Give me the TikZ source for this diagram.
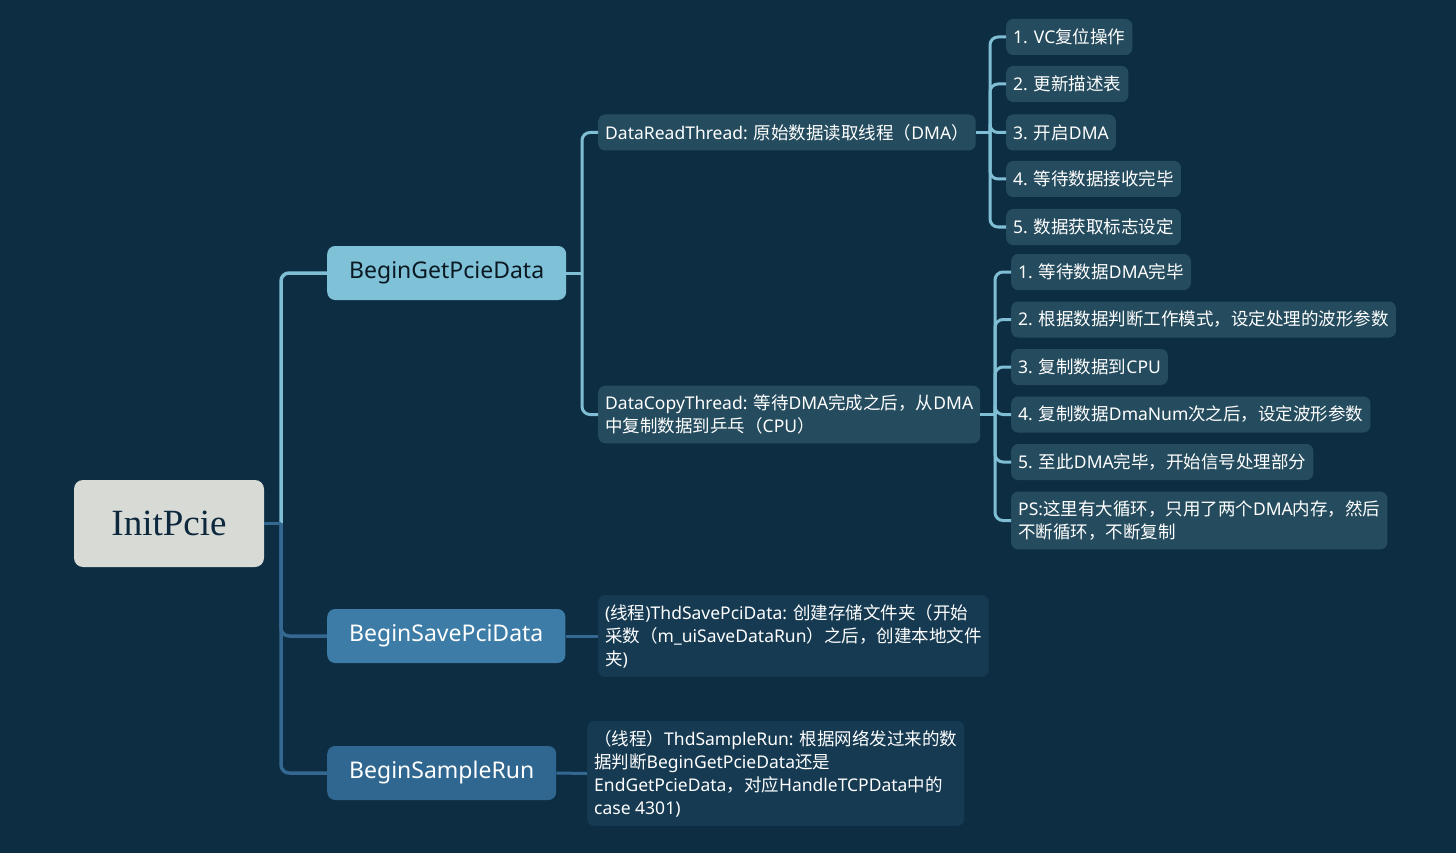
\documentclass[tikz,border=0pt]{standalone}
\usepackage{fontspec}
\setmainfont{Noto Sans}
\newfontfamily\latinfont{Noto Sans}
\newfontfamily\cjkfont{Noto Sans CJK SC}
\newfontfamily\rootfont{Liberation Serif}
% switch to the CJK face for Chinese characters
\XeTeXinterchartokenstate=1
\newXeTeXintercharclass\cjkclass
\newcount\cjkchar
\def\setcjkrange#1#2{\cjkchar=#1\relax
  \loop\XeTeXcharclass\cjkchar=\cjkclass
  \ifnum\cjkchar<#2\relax\advance\cjkchar by 1\repeat}
\setcjkrange{"4E00}{"9FFF}
\setcjkrange{"3000}{"303F}
\setcjkrange{"FF00}{"FFEF}
\XeTeXinterchartoks 0 \cjkclass = {\cjkfont}
\XeTeXinterchartoks 4095 \cjkclass = {\cjkfont}
\XeTeXinterchartoks \cjkclass 0 = {\latinfont}
\XeTeXinterchartoks \cjkclass 4095 = {\latinfont}
\usepackage{xcolor}
\definecolor{BgNavy}{RGB}{13,46,66}
\definecolor{RootGray}{RGB}{216,218,214}
\definecolor{RootInk}{RGB}{13,40,60}
\definecolor{MainInk}{RGB}{10,24,34}
\definecolor{FillSky}{RGB}{127,194,216}
\definecolor{FillSteel}{RGB}{60,124,166}
\definecolor{FillDenim}{RGB}{48,103,145}
\definecolor{LeafTeal}{RGB}{37,76,94}
\definecolor{LeafNavy}{RGB}{22,58,82}
\definecolor{LineSky}{RGB}{127,190,212}
\definecolor{LineSteel}{RGB}{52,104,145}
\usepackage{tikz}
\usetikzlibrary{positioning, calc}
\tikzset{
  % Central topic
  rootbox/.style={
    rectangle, rounded corners=9pt,
    fill=RootGray, text=RootInk,
    minimum width=190pt, minimum height=87pt,
    font=\rootfont\fontsize{37}{40}\selectfont
  },
  % Main topics
  mainbox/.style={
    rectangle, rounded corners=8pt, anchor=west,
    minimum height=54pt, inner xsep=22pt,
    text=white, font=\fontsize{23}{26}\selectfont
  },
  mainbox sky/.style={mainbox, fill=FillSky, text=MainInk},
  mainbox steel/.style={mainbox, fill=FillSteel},
  mainbox denim/.style={mainbox, fill=FillDenim},
  % Subtopics
  leafbox/.style={
    rectangle, rounded corners=7pt, anchor=west, align=left,
    minimum height=36pt, inner xsep=7pt, inner ysep=9pt,
    text=white, font=\fontsize{17.5}{23}\selectfont
  },
  leafbox teal/.style={leafbox, fill=LeafTeal},
  leafbox navy/.style={leafbox, fill=LeafNavy},
  % Connectors
  link/.style={line width=3.5pt, rounded corners=8pt},
  link sky/.style={link, LineSky},
  link steel/.style={link, LineSteel},
  sublink/.style={line width=3pt, rounded corners=8pt, LineSky},
}

\begin{document}
\begin{tikzpicture}[x=1pt, y=-1pt]
  % Canvas
  \fill[BgNavy] (0,0) rectangle (1456,853);
  \useasboundingbox (0,0) rectangle (1456,853);

  % Topics
  \node[rootbox] (root) at (169,523.5) {InitPcie};
  \node[mainbox sky] (getdata) at (327,273) {BeginGetPcieData};
  \node[mainbox steel] (savedata) at (327,636) {BeginSavePciData};
  \node[mainbox denim] (samplerun) at (327,773) {BeginSampleRun};

  % Threads
  \node[leafbox teal] (readthd) at (598,132.5) {DataReadThread: 原始数据读取线程（DMA）};
  \node[leafbox teal] (copythd) at (598,414.5) {DataCopyThread: 等待DMA完成之后，从DMA\\中复制数据到乒乓（CPU）};
  \node[leafbox navy] (savethd) at (598,636) {(线程)ThdSavePciData: 创建存储文件夹（开始\\采数（m\_uiSaveDataRun）之后，创建本地文件\\夹)};
  \node[leafbox navy] (samplethd) at (587,773.5) {（线程）ThdSampleRun: 根据网络发过来的数\\据判断BeginGetPcieData还是\\EndGetPcieData，对应HandleTCPData中的\\case 4301)};

  % Read steps
  \node[leafbox teal] (read1) at (1006,37) {1. VC复位操作};
  \node[leafbox teal] (read2) at (1006,84) {2. 更新描述表};
  \node[leafbox teal] (read3) at (1006,132.5) {3. 开启DMA};
  \node[leafbox teal] (read4) at (1006,179) {4. 等待数据接收完毕};
  \node[leafbox teal] (read5) at (1006,227) {5. 数据获取标志设定};

  % Copy steps
  \node[leafbox teal] (copy1) at (1011,272) {1. 等待数据DMA完毕};
  \node[leafbox teal] (copy2) at (1011,319.5) {2. 根据数据判断工作模式，设定处理的波形参数};
  \node[leafbox teal] (copy3) at (1011,367) {3. 复制数据到CPU};
  \node[leafbox teal] (copy4) at (1011,414.5) {4. 复制数据DmaNum次之后，设定波形参数};
  \node[leafbox teal] (copy5) at (1011,462) {5. 至此DMA完毕，开始信号处理部分};
  \node[leafbox teal] (copyps) at (1011,520.5) {PS:这里有大循环，只用了两个DMA内存，然后\\不断循环，不断复制};

  % Junctions
  \coordinate (rootcol) at (281,0);
  \coordinate (getcol) at (582,0);
  \coordinate (readcol) at (990,0);
  \coordinate (copycol) at (995,0);
  \coordinate (rootj) at (root.east -| rootcol);
  \coordinate (getj) at (getdata.east -| getcol);
  \coordinate (readj) at (readthd.east -| readcol);
  \coordinate (copyj) at (copythd.east -| copycol);

  % Root connectors
  \draw[link sky] (rootj) |- (getdata.west);
  \draw[link steel] (root.east) -- (rootj);
  \draw[link steel] (rootj) |- (savedata.west);
  \draw[link steel] (rootj) |- (samplerun.west);

  % Branch connectors
  \draw[sublink] (getdata.east) -- (getj);
  \draw[sublink] (getj) |- (readthd.west);
  \draw[sublink] (getj) |- (copythd.west);
  \draw[link steel, line width=3pt] (savedata.east) -- (savethd.west);
  \draw[link steel, line width=3pt] (samplerun.east) -- (samplethd.west);

  % Step connectors
  \draw[sublink] (readthd.east) -- (readj);
  \foreach \s in {read1,read2,read3,read4,read5}
    \draw[sublink] (readj) |- (\s.west);
  \draw[sublink] (copythd.east) -- (copyj);
  \foreach \s in {copy1,copy2,copy3,copy4,copy5,copyps}
    \draw[sublink] (copyj) |- (\s.west);
\end{tikzpicture}
\end{document}
